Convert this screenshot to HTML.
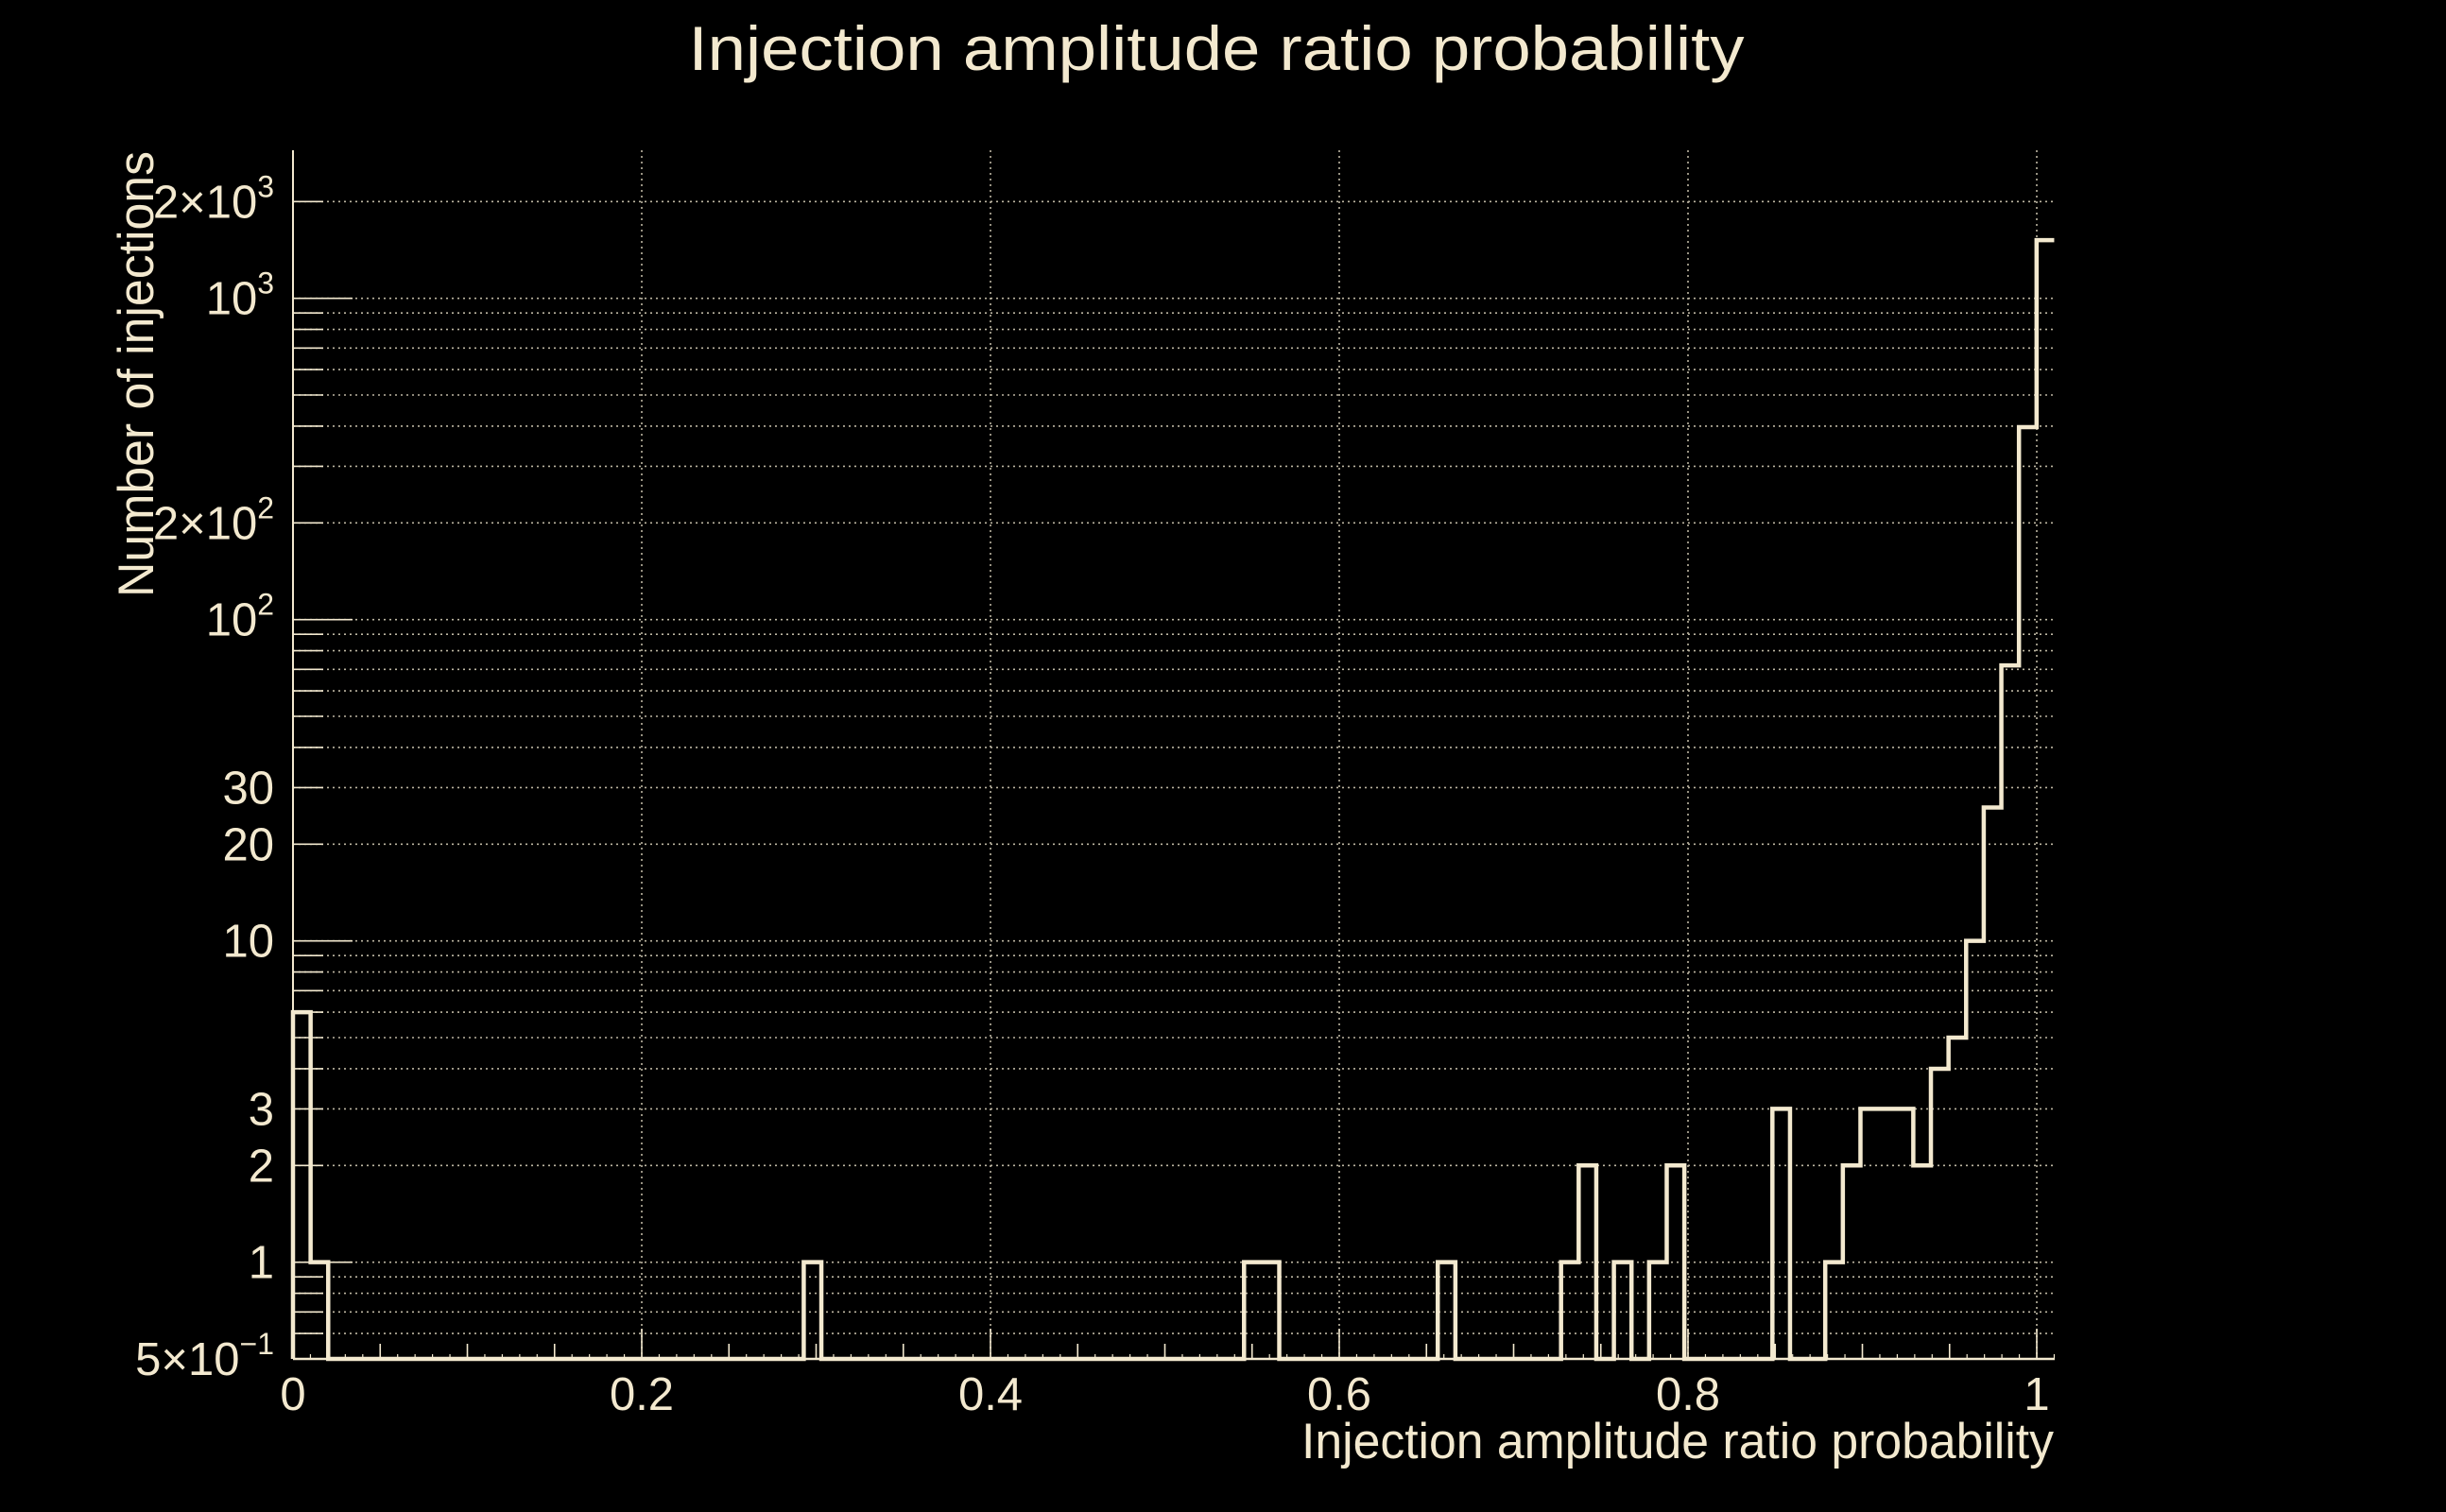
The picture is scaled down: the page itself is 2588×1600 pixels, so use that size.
<!DOCTYPE html>
<html><head><meta charset="utf-8"><style>
html,body{margin:0;padding:0;background:#000;}
svg{display:block;font-family:"Liberation Sans",sans-serif;}
</style></head><body>
<svg id="chart" width="2588" height="1600" viewBox="0 0 2588 1600" xmlns="http://www.w3.org/2000/svg">
<rect width="2588" height="1600" fill="#000"/>
<text x="1287" y="74" font-size="66" fill="#f3e9cf" text-anchor="middle" textLength="1117" lengthAdjust="spacingAndGlyphs">Injection amplitude ratio probability</text>
<g id="grid"></g>
<g id="axes"></g>
<g id="marks"></g>
<text x="2173" y="1543" font-size="53" fill="#f3e9cf" text-anchor="end" textLength="796" lengthAdjust="spacingAndGlyphs">Injection amplitude ratio probability</text>
<text transform="translate(162,160) rotate(-90)" font-size="53" fill="#f3e9cf" text-anchor="end" textLength="472" lengthAdjust="spacingAndGlyphs">Number of injections</text>
</svg>
<script>
const binWidth = 0.0101;
const counts = [6,1,0,0,0,0,0,0,0,0, 0,0,0,0,0,0,0,0,0,0, 0,0,0,0,0,0,0,0,0,1,
 0,0,0,0,0,0,0,0,0,0, 0,0,0,0,0,0,0,0,0,0, 0,0,0,0,1,1,0,0,0,0,
 0,0,0,0,0,1,0,0,0,0, 0,0,1,2,0,1,0,1,2,0, 0,0,0,0,3,0,0,1,2,3,
 3,3,2,4,5,10,26,72,397,1517];
const xTicks = [0,0.2,0.4,0.6,0.8,1];
const xTickLabels = ["0","0.2","0.4","0.6","0.8","1"];
const yLabelVals = [0.5,1,2,3,10,20,30,100,200,1000,2000];
const yLabelBase = ["5\u00d710","1","2","3","10","20","30","10","2\u00d710","10","2\u00d710"];
const yLabelSup = ["\u22121","","","","","","","2","2","3","3"];

const NS="http://www.w3.org/2000/svg";
const X0=310, XS=1845, YB=1438, DEC=340, YMIN=0.5, YTOP=159, XEND=2174;
const col="#f3e9cf";
function xs(v){return X0+v*XS;}
function ys(v){ if(v<YMIN) v=YMIN; return YB-(Math.log10(v)-Math.log10(YMIN))*DEC;}
function mk(tag,attrs,parent){const e=document.createElementNS(NS,tag);for(const k in attrs)e.setAttribute(k,attrs[k]);parent.appendChild(e);return e;}
const grid=document.getElementById('grid'), axes=document.getElementById('axes'), marks=document.getElementById('marks');

const minors=[];
for(let d=-1; d<=3; d++) for(let m=1;m<=9;m++){const v=m*Math.pow(10,d); if(v>=YMIN && ys(v)>=YTOP) minors.push(v);}
minors.forEach(v=>{
  const y=ys(v);
  const l=mk('line',{x1:X0,x2:XEND,y1:y,y2:y,stroke:"#bdb6a2","stroke-width":1.6,"stroke-dasharray":"2 4"},grid);
  
  
  const major=Math.abs(Math.log10(v)-Math.round(Math.log10(v)))<1e-9;
  const t=mk('line',{x1:X0,x2:X0+(major?63:32),y1:y,y2:y,stroke:col,"stroke-width":1.6},axes);
  
  
});
xTicks.forEach((v,i)=>{
  if(v>0){const l=mk('line',{x1:xs(v),x2:xs(v),y1:YTOP,y2:YB,stroke:"#bdb6a2","stroke-width":1.6,"stroke-dasharray":"2 4"},grid);
  
  }
  const t=mk('text',{x:xs(v),y:1492,"font-size":49,fill:col,"text-anchor":"middle"},axes);
  t.textContent=xTickLabels[i];
  
  
});
for(let k=1;k<=20;k++){const v=k*0.05; const major=(k%4===0);
  const t=mk('line',{x1:xs(v),x2:xs(v),y1:YB,y2:YB-(major?32:16),stroke:col,"stroke-width":1.6},axes);
  
  }
for(let k=1;k<=101;k++){const v=k*0.01;
  const t=mk('line',{x1:xs(v),x2:xs(v),y1:YB,y2:YB-5,stroke:col,"stroke-width":1.2},axes);
  
  }
const ax=mk('line',{x1:X0,x2:X0,y1:YTOP,y2:YB,stroke:col,"stroke-width":2},axes);


const bx=mk('line',{x1:X0,x2:XEND,y1:YB,y2:YB,stroke:col,"stroke-width":2.5},axes);


yLabelVals.forEach((v,i)=>{
  const t=mk('text',{x:290,y:ys(v)+17,"font-size":49,fill:col,"text-anchor":"end"},axes);
  
  
  const a=mk('tspan',{},t); a.textContent=yLabelBase[i];
  if(yLabelSup[i]){const s=mk('tspan',{"font-size":32,dy:-22},t); s.textContent=yLabelSup[i];}
});
let d="M"+X0+","+ys(0);
counts.forEach((c,k)=>{
  const x1=xs(k*binWidth), x2=xs((k+1)*binWidth), y=ys(c);
  d+=" L"+x1+","+y+" L"+x2+","+y;
});
const p=mk('path',{d:d,fill:"none",stroke:col,"stroke-width":4.5,"stroke-linejoin":"miter"},marks);


</script>
</body></html>
